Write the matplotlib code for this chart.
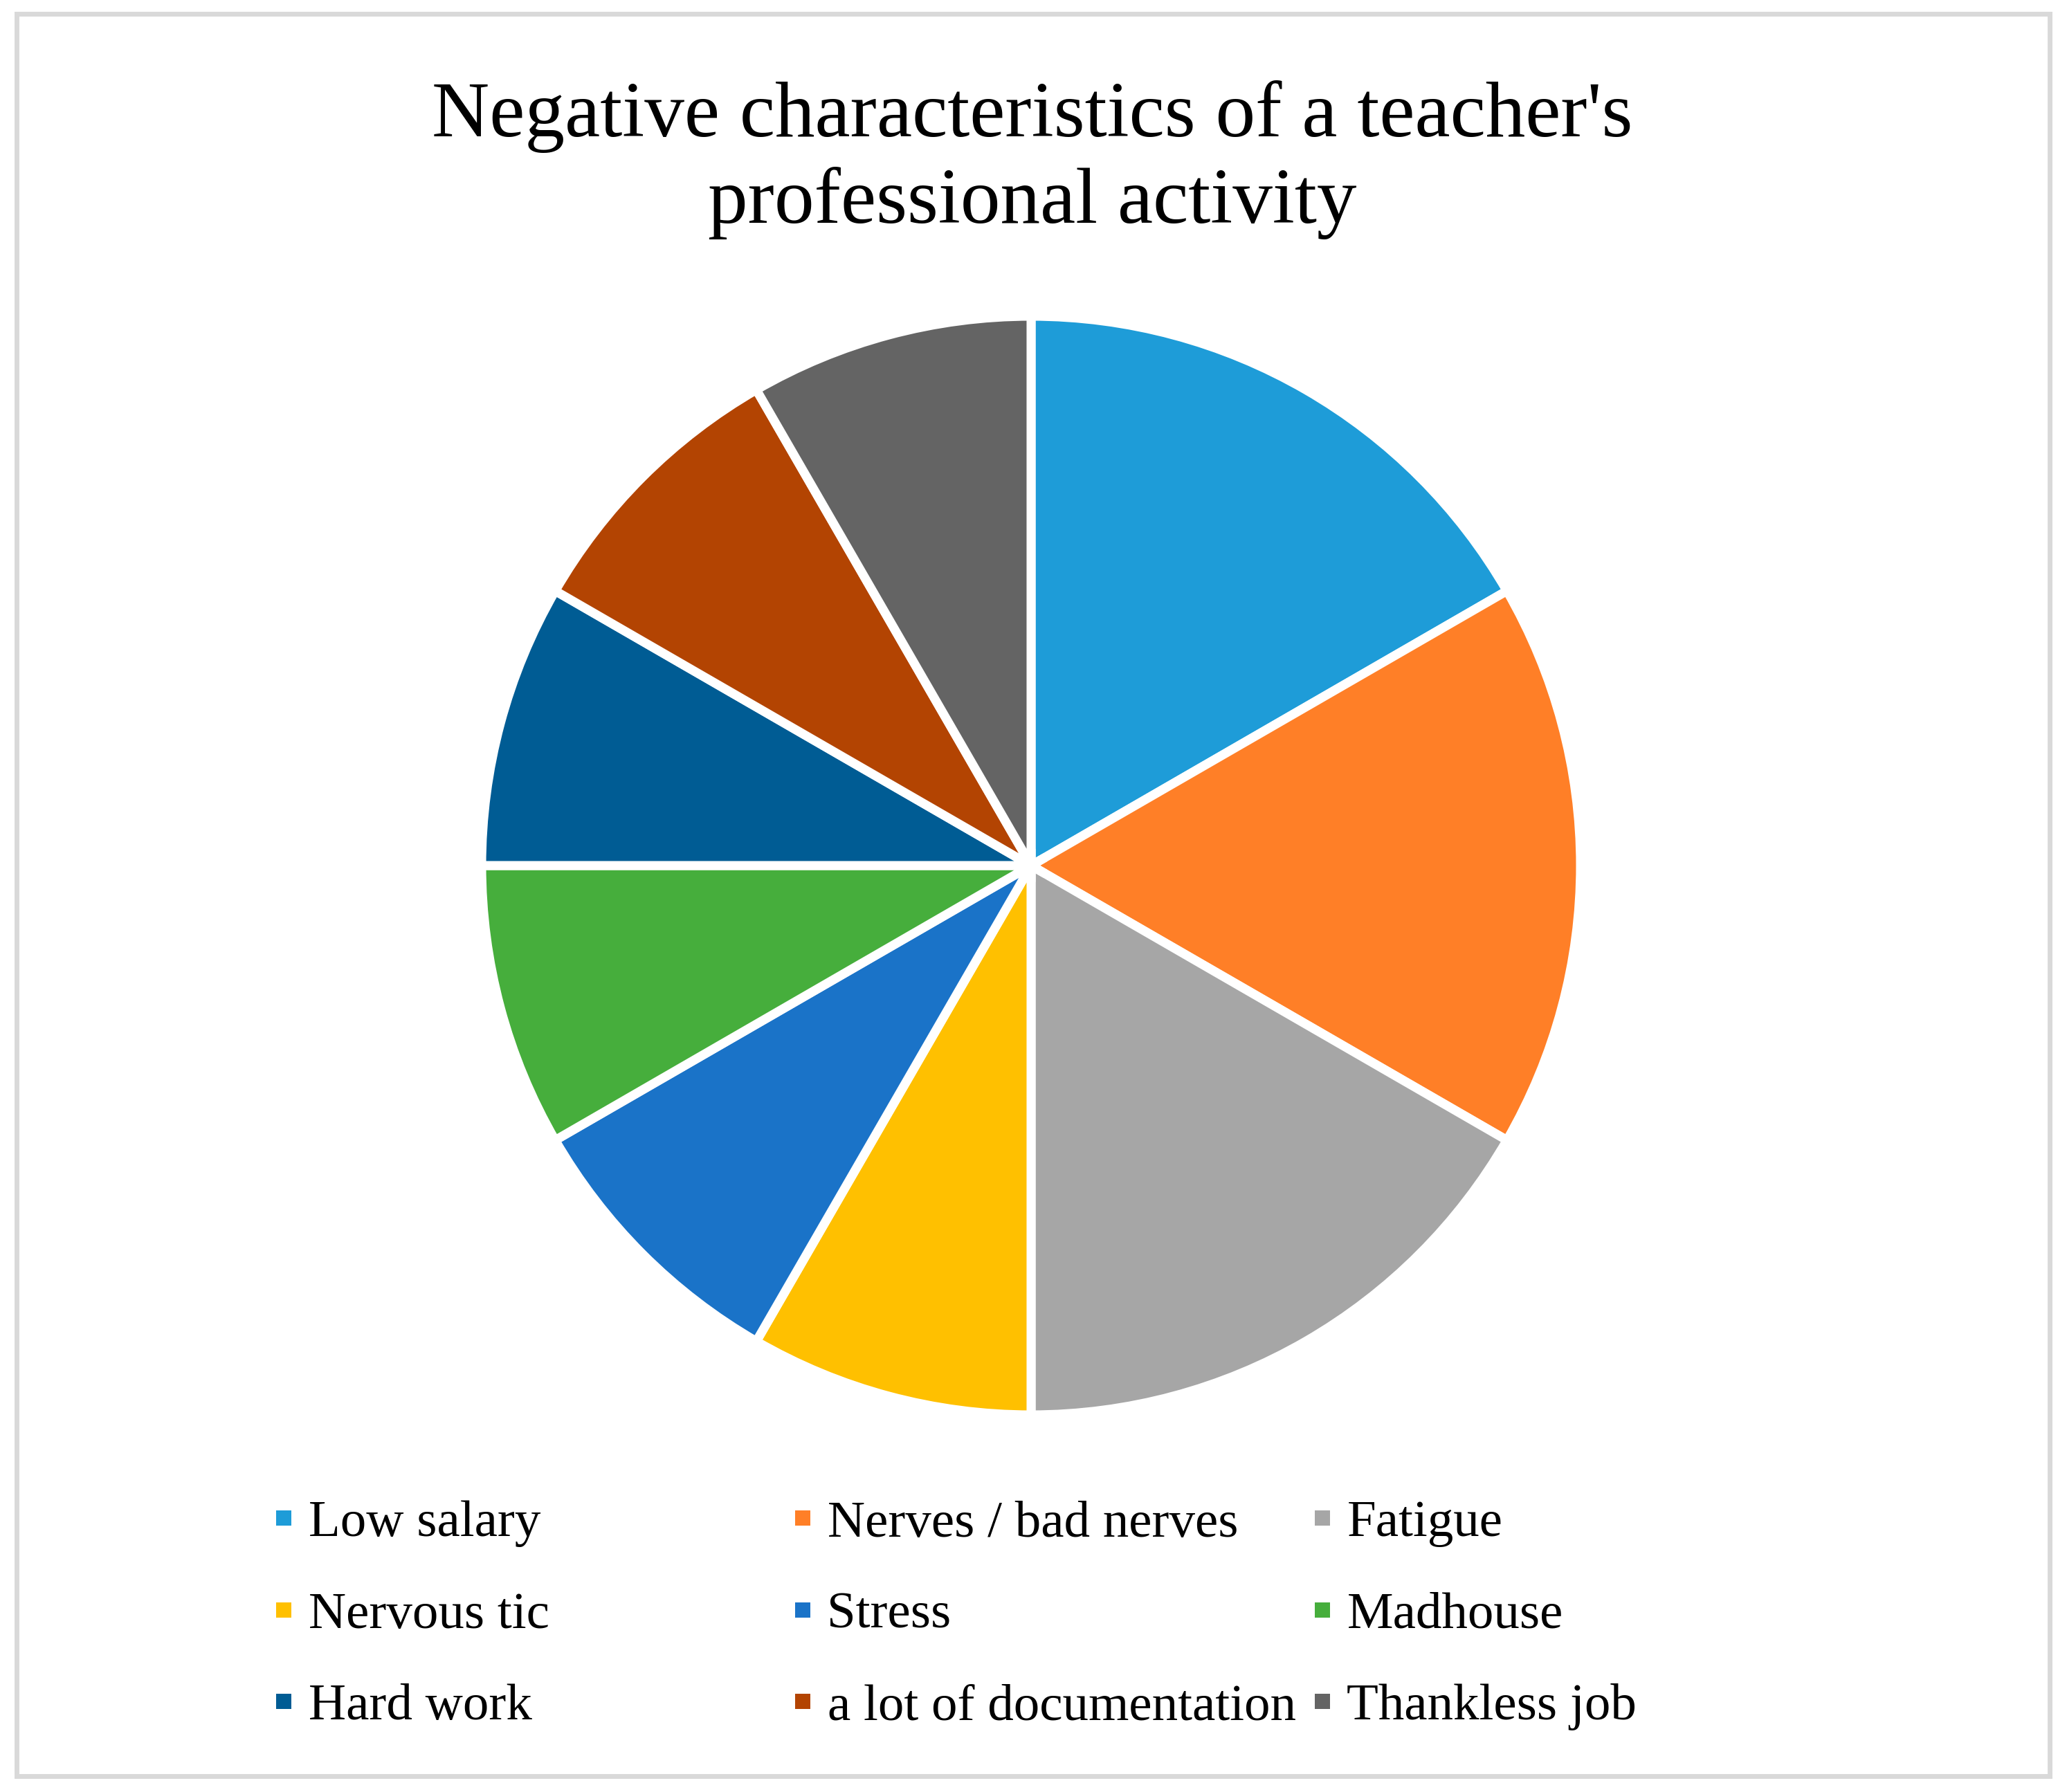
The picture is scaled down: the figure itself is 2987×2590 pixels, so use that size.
import matplotlib
matplotlib.use('Agg')
import matplotlib.pyplot as plt
from matplotlib.lines import Line2D
from matplotlib.patches import Rectangle

# data (equal units: three big slices of 2, six small of 1)
labels = ['Low salary', 'Nerves / bad nerves', 'Fatigue',
          'Nervous tic', 'Stress', 'Madhouse',
          'Hard work', 'a lot of documentation', 'Thankless job']
values = [2, 2, 2, 1, 1, 1, 1, 1, 1]
colors = ['#1E9CD8', '#FF7F27', '#A6A6A6',
          '#FFC000', '#1A73C8', '#46AE3C',
          '#005C94', '#B34402', '#646464']
title = "Negative characteristics of a teacher's\nprofessional activity"

W, H = 2987, 2590
DPI = 100
plt.rcParams['font.family'] = ['Liberation Serif', 'DejaVu Serif']

fig = plt.figure(figsize=(W / DPI, H / DPI), dpi=DPI)

# grey frame around the chart
fig.patches.append(Rectangle((23.5 / W, 1 - 2566.5 / H), (2961.5 - 23.5) / W, (2566.5 - 19.5) / H,
                             transform=fig.transFigure, fill=False,
                             edgecolor='#D9D9D9', linewidth=5))

# pie axes
cx, cy, r = 1490, 1251, 794
ax = fig.add_axes([(cx - r) / W, (H - cy - r) / H, 2 * r / W, 2 * r / H])
wedges, _ = ax.pie(values, colors=colors, startangle=90, counterclock=False,
                   radius=1, wedgeprops=dict(edgecolor='white', linewidth=9.4))
ax.set_xlim(-1, 1)
ax.set_ylim(-1, 1)
ax.set_aspect('equal')
ax.axis('off')

fig.text(1492 / W, 1 - 116 / H, title, ha='center', va='top',
         fontsize=83, linespacing=1.25)

# legend: three columns, rows filled left to right
col_x = [399, 1149, 1900]
for c in range(3):
    idx = [c, c + 3, c + 6]
    handles = [Line2D([], [], linestyle='none', marker='s', markersize=16.5,
                      markerfacecolor=colors[i], markeredgewidth=0) for i in idx]
    leg = fig.legend(handles, [labels[i] for i in idx], loc='upper left',
                     bbox_to_anchor=(col_x[c] / W, 1 - 2168 / H),
                     bbox_transform=fig.transFigure, frameon=False,
                     fontsize=54, handlelength=0.3, handletextpad=0.32,
                     labelspacing=0.85, borderpad=0, borderaxespad=0)

fig.savefig('out.png', dpi=DPI)
